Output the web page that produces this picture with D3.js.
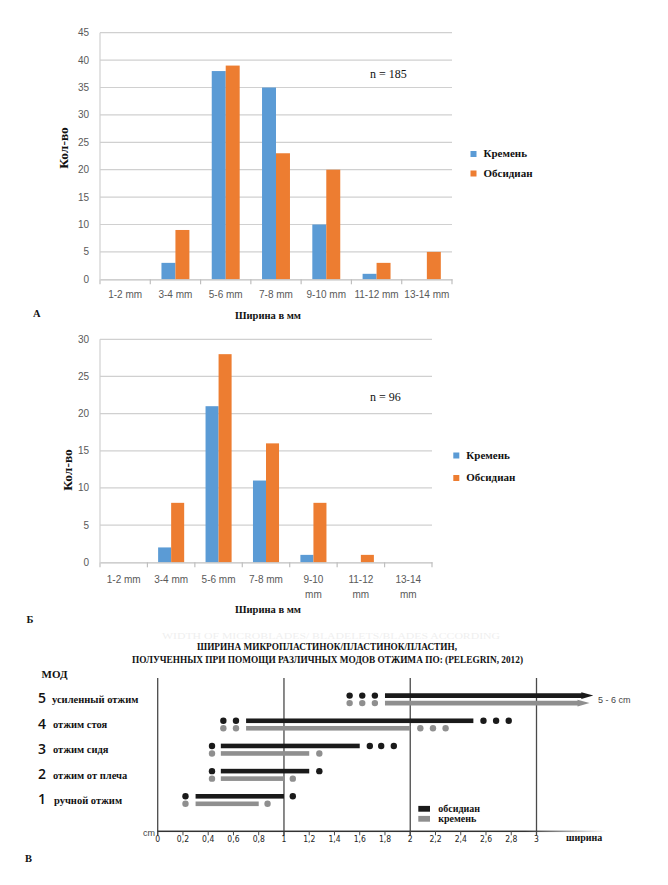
<!DOCTYPE html>
<html><head><meta charset="utf-8">
<script src="https://cdn.jsdelivr.net/npm/d3@7"></script>
<style>html,body{margin:0;padding:0;background:#fff;}svg{display:block;}</style>
</head><body>
<script>
// ---------- DATA ----------
const widthCats = ["1-2 mm","3-4 mm","5-6 mm","7-8 mm","9-10 mm","11-12 mm","13-14 mm"];
const seriesNames = ["Кремень","Обсидиан"];
const flintA = [0,3,38,35,10,1,0];
const obsidianA = [0,9,39,23,20,3,5];
const flintB = [0,2,21,11,1,0,0];
const obsidianB = [0,8,28,16,8,1,0];
const ticksA = [0,5,10,15,20,25,30,35,40,45];
const ticksB = [0,5,10,15,20,25,30];

const modeNums = [5,4,3,2,1];
const modeNames = ["усиленный отжим","отжим стоя","отжим сидя","отжим от плеча","ручной отжим"];
const obsRange = [[1.8,3.45],[0.7,2.5],[0.5,1.6],[0.5,1.2],[0.3,1.0]];
const obsDots = [[1.52,1.62,1.72],[0.52,0.62,2.58,2.68,2.78],[0.43,1.68,1.77,1.87],[0.43,1.28],[0.22,1.07]];
const flintRange = [[1.8,3.42],[0.7,2.0],[0.5,1.2],[0.5,1.0],[0.3,0.8]];
const flintDots = [[1.52,1.62,1.72],[0.52,0.62,2.08,2.18,2.28],[0.43,1.28],[0.43,1.07],[0.22,0.87]];
const arrowRow = 5;
const cTicks = [0,0.2,0.4,0.6,0.8,1,1.2,1.4,1.6,1.8,2,2.2,2.4,2.6,2.8,3];
const cMajor = [0,1,2,3];

// ---------- SETUP ----------
const W = 668, H = 885;
const svg = d3.select("body").append("svg").attr("width", W).attr("height", H);
svg.append("rect").attr("width", W).attr("height", H).attr("fill", "#fff");
const colors = {"Кремень":"#5b9bd5","Обсидиан":"#ed7d31"};
const serif = "'Liberation Serif','DejaVu Serif',serif";
const sans = "'Liberation Sans','DejaVu Sans',sans-serif";

function barChart(o){
  const g = svg.append("g");
  const x = d3.scaleBand().domain(widthCats).range([o.x0, o.x1]).padding(0);
  const x1 = d3.scaleBand().domain(seriesNames).range([0, x.bandwidth()]).paddingInner(0).paddingOuter(o.pad);
  const y = d3.scaleLinear().domain([0, o.max]).range([o.yb, o.yt]);
  g.selectAll(".grid").data(o.ticks.filter(t=>t>0)).join("line")
    .attr("x1", o.x0).attr("x2", o.x1).attr("y1", d=>y(d)).attr("y2", d=>y(d))
    .attr("stroke", "#d0d0d0").attr("stroke-width", 1.2);
  g.append("line").attr("x1", o.x0).attr("x2", o.x0).attr("y1", y(o.max)).attr("y2", y(0))
    .attr("stroke", "#d0d0d0").attr("stroke-width", 1.2);
  g.selectAll(".yl").data(o.ticks).join("text")
    .attr("x", o.x0 - 11).attr("y", d=>y(d)+3.5).attr("text-anchor","end")
    .attr("font-family", sans).attr("font-size", 10).attr("fill", "#595959").text(d=>d);
  const data = widthCats.map((c,i)=>({c, vals:[{s:"Кремень",v:o.flint[i]},{s:"Обсидиан",v:o.obs[i]}]}));
  const grp = g.selectAll(".grp").data(data).join("g").attr("transform", d=>`translate(${x(d.c)},0)`);
  grp.selectAll("rect").data(d=>d.vals.filter(v=>v.v>0)).join("rect")
    .attr("x", d=>x1(d.s)).attr("width", x1.bandwidth())
    .attr("y", d=>y(d.v)).attr("height", d=>y(0)-y(d.v)).attr("fill", d=>colors[d.s]);
  const xa = g.append("g").attr("transform", `translate(0,${y(0)})`)
    .call(d3.axisBottom(x).tickSize(0).tickFormat(""));
  xa.select(".domain").attr("stroke", "#bfbfbf").attr("stroke-width", 1.2);
  const bounds = widthCats.map(c=>x(c)).concat([o.x1]);
  g.selectAll(".tk").data(bounds).join("line")
    .attr("x1", d=>d).attr("x2", d=>d).attr("y1", y(0)).attr("y2", y(0)+5)
    .attr("stroke", "#bfbfbf").attr("stroke-width", 1.2);
  g.selectAll(".cl").data(widthCats).join("text")
    .attr("text-anchor","middle").attr("font-family", sans).attr("font-size", 10).attr("fill","#595959")
    .each(function(d,i){
      const t = d3.select(this);
      const cx = x(d) + x.bandwidth()/2;
      if (o.wrap && i >= 4) {
        const parts = d.split(" ");
        t.append("tspan").attr("x", cx).attr("y", o.labY).text(parts[0]);
        t.append("tspan").attr("x", cx).attr("y", o.labY+15).text(parts[1]);
      } else {
        t.attr("x", cx).attr("y", o.labY).text(d);
      }
    });
  g.append("text").attr("x", 268).attr("y", o.xtY).attr("text-anchor","middle")
    .attr("font-family", serif).attr("font-weight","bold").attr("font-size", 10.5).attr("fill","#111").text("Ширина в мм");
  g.append("text").attr("transform", `translate(${o.ytX},${o.ytY}) rotate(-90)`).attr("text-anchor","middle")
    .attr("font-family", serif).attr("font-weight","bold").attr("font-size", 13.5).attr("fill","#111").text("Кол-во");
  g.append("text").attr("x", o.nX).attr("y", o.nY).attr("font-family", serif).attr("font-size", 12).attr("fill","#111").text(o.nText);
  const lg = g.selectAll(".lg").data(seriesNames).join("g")
    .attr("transform", (d,i)=>`translate(${o.lgX},${o.lgY + i*o.lgDy})`);
  lg.append("rect").attr("x",0).attr("y",-6).attr("width",6).attr("height",6).attr("fill", d=>colors[d]);
  lg.append("text").attr("x", 13).attr("y", 0).attr("font-family", serif).attr("font-weight","bold")
    .attr("font-size", 11).attr("fill","#111").text(d=>d);
  g.append("text").attr("x", o.letX).attr("y", o.letY).attr("font-family", serif).attr("font-weight","bold")
    .attr("font-size", 10.5).attr("fill","#111").text(o.letter);
}

barChart({x0:100, x1:452, yb:279.3, yt:32.7, max:45, ticks:ticksA, flint:flintA, obs:obsidianA, pad:0.8,
  labY:297.5, wrap:false, xtY:319, ytX:67.5, ytY:148, nX:370, nY:77.5, nText:"n = 185",
  lgX:470.5, lgY:157, lgDy:19.5, letX:33, letY:316.5, letter:"А"});
barChart({x0:100, x1:432, yb:562.3, yt:339.3, max:30, ticks:ticksB, flint:flintB, obs:obsidianB, pad:0.82,
  labY:582.5, wrap:true, xtY:612.5, ytX:72, ytY:470, nX:370, nY:400.5, nText:"n = 96",
  lgX:453.3, lgY:458.5, lgDy:22.5, letX:26.5, letY:622.5, letter:"Б"});

// ---------- CHART C ----------
const gc = svg.append("g");
const xc = d3.scaleLinear().domain([0,3]).range([157.7, 536.5]);
const yc = d3.scalePoint().domain(modeNums).range([695.6, 796.3]);
const greyOff = 7.5;
const cBlack = "#1a1a1a", cGrey = "#8f8f8f";
const axisY = 831.3, topY = 678;

// faint ghost text (kept above the title so they do not overlap)
gc.append("text").attr("x", 162).attr("y", 638.5).attr("font-family", serif).attr("font-size", 9)
  .attr("fill", "#efefef").attr("textLength", 338).attr("lengthAdjust","spacingAndGlyphs")
  .text("WIDTH OF MICROBLADES/ BLADELETS/BLADES ACCORDING");
gc.append("text").attr("x", 197).attr("y", 649.5).attr("font-family", serif).attr("font-weight","bold")
  .attr("font-size", 10).attr("fill","#111").attr("textLength", 260).attr("lengthAdjust","spacingAndGlyphs")
  .text("ШИРИНА МИКРОПЛАСТИНОК/ПЛАСТИНОК/ПЛАСТИН,");
gc.append("text").attr("x", 132).attr("y", 663.3).attr("font-family", serif).attr("font-weight","bold")
  .attr("font-size", 10).attr("fill","#111").attr("textLength", 391).attr("lengthAdjust","spacingAndGlyphs")
  .text("ПОЛУЧЕННЫХ ПРИ ПОМОЩИ РАЗЛИЧНЫХ МОДОВ ОТЖИМА ПО: (PELEGRIN, 2012)");

const defs = svg.append("defs");
const grad = defs.append("linearGradient").attr("id","axfade").attr("gradientUnits","userSpaceOnUse")
  .attr("x1", 157).attr("x2", 606).attr("y1",0).attr("y2",0);
grad.append("stop").attr("offset","0").attr("stop-color","#333").attr("stop-opacity",1);
grad.append("stop").attr("offset","0.82").attr("stop-color","#333").attr("stop-opacity",1);
grad.append("stop").attr("offset","1").attr("stop-color","#333").attr("stop-opacity",0);

gc.selectAll(".vl").data(cMajor).join("line")
  .attr("x1", d=>xc(d)).attr("x2", d=>xc(d)).attr("y1", topY).attr("y2", axisY+4)
  .attr("stroke", "#4a4a4a").attr("stroke-width", 1.3);
gc.append("rect").attr("x", 157).attr("y", axisY-0.75).attr("width", 449).attr("height", 1.5).attr("fill","url(#axfade)");
gc.selectAll(".ct").data(cTicks).join("line")
  .attr("x1", d=>xc(d)).attr("x2", d=>xc(d)).attr("y1", axisY).attr("y2", axisY+4)
  .attr("stroke", "#4a4a4a").attr("stroke-width", 1);
gc.selectAll(".ctl").data(cTicks).join("text")
  .attr("x", d=>xc(d)).attr("y", 842).attr("text-anchor","middle")
  .attr("font-family", "'DejaVu Sans Condensed','DejaVu Sans',sans-serif").attr("font-stretch","condensed")
  .attr("font-size", 8.5).attr("fill","#222")
  .text(d=>String(d).replace(".", ","));
gc.append("text").attr("x", 143).attr("y", 835.5).attr("font-family", sans).attr("font-size", 9).attr("fill","#444").text("cm");
gc.append("text").attr("x", 566).attr("y", 841).attr("font-family", serif).attr("font-weight","bold")
  .attr("font-size", 10).attr("fill","#111").text("ширина");

function rowMarks(ranges, dots, off, color, h, tipLen){
  modeNums.forEach((m,i)=>{
    const yy = yc(m) + off;
    const [a,b] = ranges[i];
    if (m === arrowRow) {
      const xe = xc(b), xs = xc(a), xb = xe - tipLen;
      gc.append("path").attr("d",
        `M${xs},${yy-h/2}L${xb},${yy-h/2}L${xb},${yy-h*0.75}L${xe},${yy}L${xb},${yy+h*0.75}L${xb},${yy+h/2}L${xs},${yy+h/2}Z`)
        .attr("fill", color);
    } else {
      gc.append("rect").attr("x", xc(a)).attr("y", yy-h/2).attr("width", xc(b)-xc(a)).attr("height", h).attr("fill", color);
    }
    gc.selectAll(null).data(dots[i]).join("circle")
      .attr("cx", d=>xc(d)).attr("cy", yy).attr("r", 3.2).attr("fill", color);
  });
}
rowMarks(obsRange, obsDots, 0, cBlack, 4.6, 12);
rowMarks(flintRange, flintDots, greyOff, cGrey, 4.6, 12);

gc.append("text").attr("x", 598).attr("y", 702.5).attr("font-family", sans).attr("font-size", 9).attr("fill","#444").text("5 - 6 cm");

gc.append("text").attr("x", 41.5).attr("y", 678).attr("font-family", serif).attr("font-weight","bold")
  .attr("font-size", 11).attr("fill","#111").text("МОД");
const rowLab = gc.selectAll(".rl").data(modeNums).join("g");
rowLab.append("text").attr("x", 38).attr("y", (d)=>yc(d)+7.8)
  .attr("font-family", "'Open Sans','DejaVu Sans',sans-serif").attr("font-weight", 600).attr("font-size", 14).attr("fill","#111").text(d=>d);
rowLab.append("text").attr("x", (d,i)=> i===0 ? 52 : (d===1 ? 54 : 53)).attr("y", d=>yc(d)+7.5)
  .attr("font-family", serif).attr("font-weight","bold").attr("font-size", 10.5).attr("fill","#111")
  .text((d,i)=>modeNames[i]);

const lgc = gc.selectAll(".lgc").data([["обсидиан", cBlack],["кремень", cGrey]]).join("g")
  .attr("transform", (d,i)=>`translate(418.3,${811.7 + i*10})`);
lgc.append("rect").attr("x",0).attr("y",-5.8).attr("width",11.7).attr("height",5.8).attr("fill", d=>d[1]);
lgc.append("text").attr("x", 20).attr("y", 0).attr("font-family", serif).attr("font-weight","bold")
  .attr("font-size", 10).attr("fill","#111").text(d=>d[0]);

gc.append("text").attr("x", 25).attr("y", 862).attr("font-family", serif).attr("font-weight","bold")
  .attr("font-size", 10.5).attr("fill","#111").text("В");
</script>
</body></html>
